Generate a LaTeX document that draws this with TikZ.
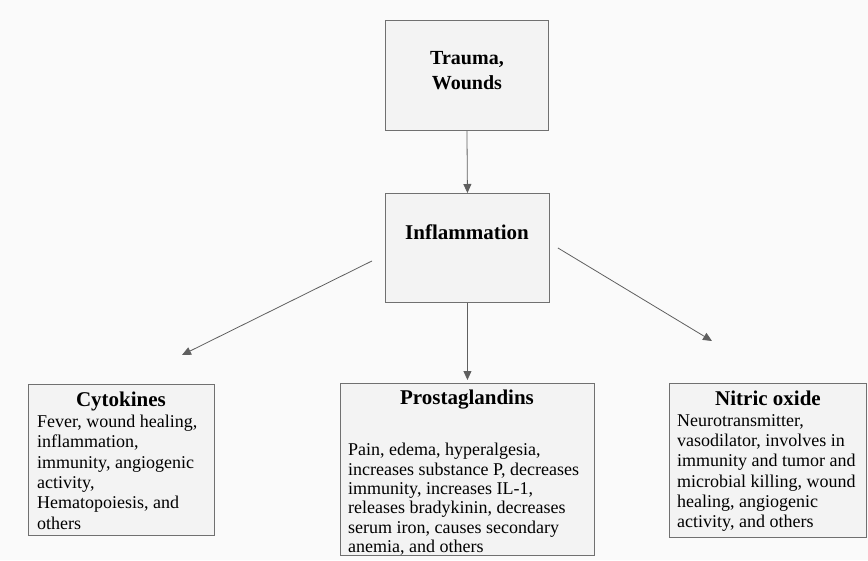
\documentclass[tikz,border=0pt]{standalone}
\usepackage{fontspec}
\setmainfont{Liberation Serif}
\usetikzlibrary{arrows.meta,positioning}
\definecolor{boxFill}{RGB}{243,243,243}
\definecolor{boxLine}{RGB}{112,112,112}
\definecolor{arrLine}{RGB}{95,95,95}

\begin{document}
\begin{tikzpicture}[x=1pt,y=-1pt,>={Triangle[length=9pt,width=8pt]},
  box/.style={draw=boxLine,fill=boxFill,line width=0.9pt,inner sep=0pt,anchor=north west},
  head/.style={font=\fontsize{21}{25}\selectfont\bfseries,align=center,inner sep=0pt},
  body/.style={font=\fontsize{18}{20.3}\selectfont,align=left,inner sep=0pt,anchor=north west},
  arr/.style={->,draw=arrLine,line width=0.8pt}]
\fill[black!2] (0,0) rectangle (868,560);
\useasboundingbox (0,0) rectangle (868,560);
% boxes
\node[box,minimum width=163pt,minimum height=110pt] (trauma) at (385,20) {};
\node[box,minimum width=164pt,minimum height=109pt] (infl) at (385,193) {};
\node[box,minimum width=186pt,minimum height=151pt] (cyto) at (28,384) {};
\node[box,minimum width=254pt,minimum height=172pt] (prosta) at (340,383) {};
\node[box,minimum width=197pt,minimum height=154pt] (nitric) at (669,383) {};
% texts
\node[head,font=\fontsize{20}{25}\selectfont\bfseries] (traumaT) at (467,71) {Trauma,\\Wounds};
\node[head] (inflT) at (467,232) {Inflammation};
\node[head] (cytoT) at (121,401) {Cytokines};
\node[body] (cytoB) at (37,415) {Fever, wound healing,\\inflammation,\\immunity, angiogenic\\activity,\\Hematopoiesis, and\\others};
\node[head] (prostaT) at (467,400) {Prostaglandins};
\node[body,font=\fontsize{18}{19.4}\selectfont] (prostaB) at (348,443) {Pain, edema, hyperalgesia,\\increases substance P, decreases\\immunity, increases IL-1,\\releases bradykinin, decreases\\serum iron, causes secondary\\anemia, and others};
\node[head] (nitricT) at (768,398) {Nitric oxide};
\node[body] (nitricB) at (677,414) {Neurotransmitter,\\vasodilator, involves in\\immunity and tumor and\\microbial killing, wound\\healing, angiogenic\\activity, and others};
% arrows
\coordinate (cytoTip) at (182,355);
\coordinate (nitricTip) at (712,341);
\draw[arr] (trauma.south) -- (infl.north);
\draw[arr] ([shift={(-13pt,-13pt)}]infl.west) -- (cytoTip);
\draw[arr] (infl.south) -- ([yshift=3pt]prosta.north);
\draw[arr] ([xshift=8pt]infl.east) -- (nitricTip);
\end{tikzpicture}
\end{document}
